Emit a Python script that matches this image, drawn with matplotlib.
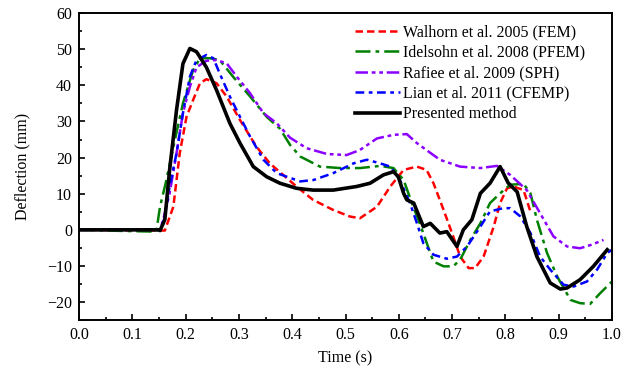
import numpy as np
import matplotlib
matplotlib.use('Agg')
import matplotlib.pyplot as plt
from matplotlib.ticker import MultipleLocator

# ============================================================
# DATA
# ============================================================
t_walhorn = [0, 0.161, 0.177, 0.189, 0.2017, 0.214, 0.227, 0.239, 0.258, 0.277,
             0.302, 0.333, 0.358, 0.383, 0.408, 0.439, 0.477, 0.508, 0.527, 0.559,
             0.584, 0.609, 0.634, 0.652, 0.665, 0.684, 0.702, 0.715, 0.731, 0.743,
             0.759, 0.778, 0.790, 0.803, 0.815, 0.834, 0.847]
d_walhorn = [0, -0.2, 6.4, 21.2, 31.3, 35.9, 40.6, 41.7, 40.6, 36.9,
             30.4, 23, 18.4, 15.2, 12, 8.3, 5.5, 3.7, 3.2, 6.4,
             12, 16.6, 17.5, 16.6, 12.9, 5.5, -1.8, -7.4, -10.6, -10.6,
             -7.4, 0.9, 7.4, 11.5, 12, 11, 5]

t_idelsohn = [0, 0.08, 0.145, 0.152, 0.164, 0.177, 0.195, 0.214, 0.227, 0.2455,
              0.264, 0.289, 0.321, 0.352, 0.377, 0.396, 0.415, 0.452, 0.490, 0.527,
              0.565, 0.590, 0.609, 0.627, 0.640, 0.659, 0.665, 0.684, 0.702, 0.715,
              0.734, 0.753, 0.771, 0.790, 0.809, 0.834, 0.847, 0.859, 0.878, 0.897,
              0.922, 0.940, 0.959, 0.978, 1.0]
d_idelsohn = [0, -0.3, -0.5, 6.4, 13.8, 23, 35, 44.2, 47.5, 47.5,
              47, 42.4, 36.9, 31.3, 28, 23.5, 20.3, 17.5, 17.1, 17.1,
              17.7, 17.1, 13.8, 6.4, 1.5, -6.4, -8.8, -10.1, -10.1, -8.3,
              -2.8, 1.8, 7.4, 10.1, 12.5, 12.7, 10.1, 2.8, -6.4, -12.9,
              -19.4, -20.3, -20.5, -17.5, -14.3]

t_rafiee = [0, 0.152, 0.158, 0.170, 0.183, 0.195, 0.208, 0.2205, 0.239, 0.258,
            0.277, 0.296, 0.321, 0.346, 0.371, 0.396, 0.427, 0.465, 0.502, 0.527,
            0.559, 0.590, 0.615, 0.634, 0.677, 0.715, 0.753, 0.784, 0.809, 0.840,
            0.865, 0.890, 0.9155, 0.940, 0.962, 0.984]
d_rafiee = [0, 0, 2.8, 10.1, 21.2, 32.3, 39.6, 45, 46.8, 47,
            46.1, 42.4, 37.8, 32.3, 29.5, 25.5, 22.6, 21, 20.7, 22.1,
            25.3, 26.3, 26.5, 24, 19.4, 17.5, 17.1, 17.7, 15.2, 11,
            4.6, -1.8, -4.6, -5.1, -4.1, -2.8]

t_lian = [0, 0.152, 0.160, 0.170, 0.183, 0.195, 0.208, 0.2205, 0.239, 0.252,
          0.264, 0.283, 0.302, 0.321, 0.346, 0.371, 0.390, 0.415, 0.440, 0.477,
          0.515, 0.540, 0.565, 0.584, 0.602, 0.621, 0.634, 0.646, 0.665, 0.690,
          0.709, 0.728, 0.753, 0.771, 0.796, 0.809, 0.828, 0.847, 0.865, 0.884,
          0.909, 0.928, 0.953, 0.972, 0.991, 1.0]
d_lian = [0, 0, 3, 12, 21.2, 32.3, 42.4, 47, 48.4, 47.5,
          43.3, 36.9, 31.3, 25.8, 19.4, 15.7, 14.7, 13.4, 13.8, 15.7,
          18.4, 19.4, 18.4, 17.5, 13.8, 7.4, 1.8, -3.7, -6.9, -8,
          -7.4, -4.6, 0.9, 5.1, 6, 6, 3.7, -0.9, -7.4, -11,
          -15.2, -15.7, -14.3, -11, -6.4, -5.5]

t_present = [0, 0.15, 0.152, 0.161, 0.170, 0.183, 0.195, 0.208, 0.2205, 0.239,
             0.258, 0.283, 0.302, 0.327, 0.352, 0.377, 0.408, 0.439, 0.477, 0.521,
             0.546, 0.571, 0.590, 0.599, 0.609, 0.615, 0.628, 0.646, 0.659, 0.677,
             0.690, 0.709, 0.721, 0.737, 0.753, 0.771, 0.790, 0.805, 0.822, 0.840,
             0.859, 0.884, 0.903, 0.9155, 0.940, 0.965, 0.991]
d_present = [0, 0, -0.2, 2.8, 16.6, 33.2, 46, 50.2, 49.3, 45,
             38.7, 29.5, 24, 17.5, 14.7, 12.9, 11.5, 11, 11, 12,
             12.9, 15.2, 16.1, 14.7, 10.1, 8.3, 7.4, 0.9, 1.8, -0.9,
             -0.5, -4.6, 0, 2.8, 10.1, 12.9, 17.5, 13, 10.5, 0.9,
             -7.4, -14.7, -16.4, -16.1, -13.8, -10.1, -5.5]

labels = ['Walhorn et al. 2005 (FEM)', 'Idelsohn et al. 2008 (PFEM)',
          'Rafiee et al. 2009 (SPH)', 'Lian et al. 2011 (CFEMP)',
          'Presented method']

# ============================================================
# PLOT
# ============================================================
plt.rcParams['font.family'] = ['Liberation Serif', 'DejaVu Serif']
plt.rcParams['mathtext.fontset'] = 'stix'

fig = plt.figure(figsize=(6.22, 3.74), dpi=100)
ax = fig.add_axes([0.127, 0.144, 0.857, 0.821])

ax.plot(t_walhorn, d_walhorn, color='#ff0000', lw=1.8,
        ls=(0, (3, 1.6)), label=labels[0])
ax.plot(t_idelsohn, d_idelsohn, color='#008000', lw=1.8,
        ls=(0, (6, 2, 1.5, 2)), label=labels[1])
ax.plot(t_rafiee, d_rafiee, color='#8b00ff', lw=1.8,
        ls=(0, (5, 1.5, 1.5, 1.5, 1.5, 1.5)), label=labels[2])
ax.plot(t_lian, d_lian, color='#0000ff', lw=1.8,
        ls=(0, (3.5, 1.8, 1.5, 1.8)), label=labels[3])
ax.plot(t_present, d_present, color='black', lw=2.6, label=labels[4])

ax.set_xlim(0, 1.0)
ax.set_ylim(-25, 60)
ax.xaxis.set_major_locator(MultipleLocator(0.1))
ax.xaxis.set_minor_locator(MultipleLocator(0.05))
ax.yaxis.set_major_locator(MultipleLocator(10))
ax.yaxis.set_minor_locator(MultipleLocator(5))
ax.xaxis.set_major_formatter(plt.FormatStrFormatter('%.1f'))

ax.tick_params(which='both', direction='in', top=False, right=False,
               labelsize=11.5, width=1.2)
ax.tick_params(which='major', length=4.5, pad=5)
ax.tick_params(which='minor', length=2.5)
for s in ax.spines.values():
    s.set_linewidth(1.4)

ax.set_xlabel('Time (s)', fontsize=11.5, labelpad=5)
ax.set_ylabel('Deflection (mm)', fontsize=11.5, labelpad=12)

ax.legend(loc='upper right', bbox_to_anchor=(0.97, 1.0), frameon=False,
          fontsize=11.5, handlelength=2.8, handletextpad=0.2,
          labelspacing=0.28, borderaxespad=0.3)

fig.savefig('out.png', dpi=100)
